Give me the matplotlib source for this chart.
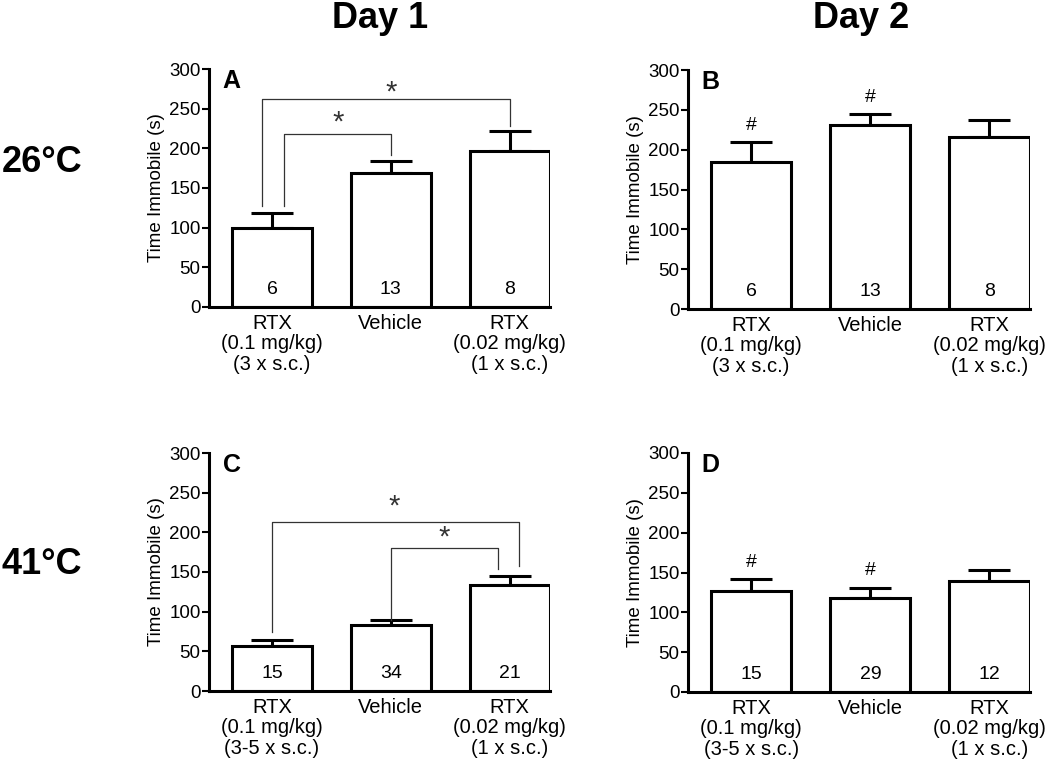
import matplotlib
matplotlib.use("Agg")
import matplotlib.pyplot as plt

plt.rcParams['font.family'] = ['Liberation Sans', 'DejaVu Sans']

# group labels
labels_3x = ["RTX\n(0.1 mg/kg)\n(3 x s.c.)", "Vehicle", "RTX\n(0.02 mg/kg)\n(1 x s.c.)"]
labels_35x = ["RTX\n(0.1 mg/kg)\n(3-5 x s.c.)", "Vehicle", "RTX\n(0.02 mg/kg)\n(1 x s.c.)"]

# time immobile (s), mean and upper SEM
mean_a = [100, 169, 197]
sem_a = [18.5, 15, 25]
n_a = [6, 13, 8]

mean_b = [185, 231, 216]
sem_b = [24, 14, 21]
n_b = [6, 13, 8]

mean_c = [57, 83, 133]
sem_c = [7, 7, 12]
n_c = [15, 34, 21]

mean_d = [127, 118, 139]
sem_d = [15, 12, 14]
n_d = [15, 29, 12]

# significance brackets: (x_left, x_right, y_top, leg_bottom_left, leg_bottom_right, star_x, star_y)
brackets_a = [(-0.08, 2.0, 262, 127, 228, 1.0, 270),
              (0.10, 1.0, 218, 127, 192, 0.56, 232)]
brackets_c = [(0.0, 2.08, 213, 74, 157, 1.03, 233),
              (1.0, 1.9, 180, 90, 154, 1.45, 194)]
# '#' marks: (bar index, y)
hash_b = [(0, 230), (1, 266)]
hash_d = [(0, 162), (1, 152)]

W, H = 1050, 766
fig = plt.figure(figsize=(W / 100, H / 100), dpi=100)


def panel(rect, means, sems, ns, labels, letter, brackets=(), hashes=()):
    x0, y_bot, x1, y_top = rect
    ax = fig.add_axes([x0 / W, 1 - y_bot / H, (x1 - x0) / W, (y_bot - y_top) / H])
    xs = range(len(means))
    ax.bar(xs, means, width=0.672, color='white', edgecolor='black', linewidth=2.2, zorder=2)
    ax.errorbar(xs, means, yerr=[[0] * len(sems), sems], fmt='none', ecolor='black',
                elinewidth=2.2, capsize=15, capthick=2.2, zorder=1)
    for x, n in zip(xs, ns):
        ax.text(x, 22, str(n), ha='center', va='center', fontsize=14)
    for xl, xr, yt, bl, br, sx, sy in brackets:
        ax.plot([xl, xl, xr, xr], [bl, yt, yt, br], color='#333333', lw=0.9,
                clip_on=False, zorder=3)
        ax.text(sx, sy, "*", ha='center', va='center', fontsize=21, color='#333333')
    for i, y in hashes:
        ax.text(i, y, "#", ha='center', va='center', fontsize=14)
    ax.text(0.04, 0.95, letter, transform=ax.transAxes, fontsize=18, fontweight='bold',
            ha='left', va='center')
    ax.set_xlim(-0.53, 2.34)
    ax.set_ylim(0, 300)
    ax.set_yticks([0, 50, 100, 150, 200, 250, 300])
    ax.set_xticks(list(xs))
    ax.set_xticklabels(labels, fontsize=14.5, linespacing=1.1)
    ax.tick_params(axis='x', length=0, pad=5)
    ax.tick_params(axis='y', length=5, width=1.5, labelsize=13.5, pad=1)
    ax.spines['top'].set_visible(False)
    ax.spines['right'].set_visible(False)
    ax.spines['left'].set_linewidth(2.2)
    ax.spines['bottom'].set_linewidth(2.2)
    ax.set_ylabel("Time Immobile (s)", fontsize=13.5, labelpad=3)
    return ax


panel((209, 307, 550, 69), mean_a, sem_a, n_a, labels_3x, "A", brackets=brackets_a)
panel((688, 309, 1030, 70), mean_b, sem_b, n_b, labels_3x, "B", hashes=hash_b)
panel((209, 691, 550, 453), mean_c, sem_c, n_c, labels_35x, "C", brackets=brackets_c)
panel((688, 692, 1030, 453), mean_d, sem_d, n_d, labels_35x, "D", hashes=hash_d)

fig.text(380 / W, 1 - 18 / H, "Day 1", fontsize=26, fontweight='bold', ha='center', va='center')
fig.text(861 / W, 1 - 18 / H, "Day 2", fontsize=26, fontweight='bold', ha='center', va='center')
fig.text(42 / W, 1 - 162 / H, "26°C", fontsize=26, fontweight='bold', ha='center', va='center')
fig.text(42 / W, 1 - 565 / H, "41°C", fontsize=26, fontweight='bold', ha='center', va='center')

fig.savefig("out.png", dpi=100)
